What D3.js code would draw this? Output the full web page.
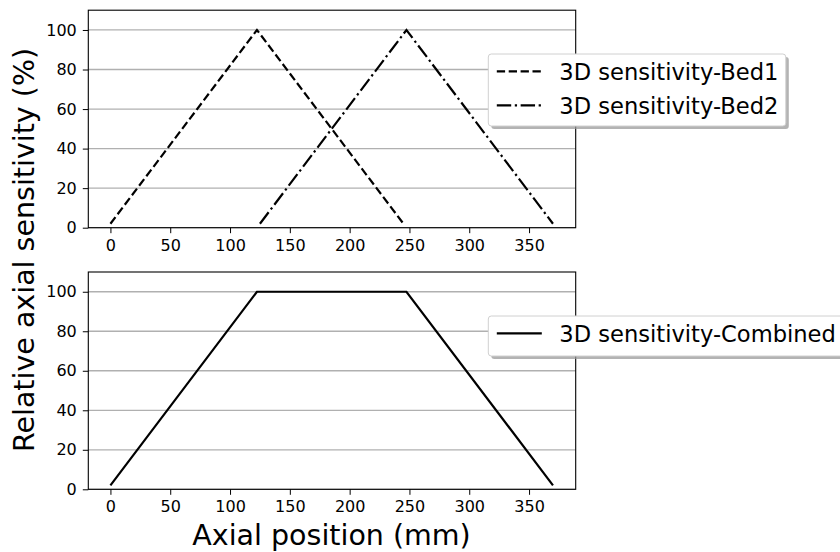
<!DOCTYPE html>
<html>
<head>
<meta charset="utf-8">
<script src="https://cdn.jsdelivr.net/npm/d3@7"></script>
<style>
  html, body { margin: 0; padding: 0; background: #fff; }
  svg { display: block; font-family: "DejaVu Sans", sans-serif; }
</style>
</head>
<body>
<svg id="chart" width="840" height="552"></svg>
<script>
// ---- data ----
const bed1X = [0, 122.5, 245];
const bed1Y = [2, 100, 2];
const bed2X = [125, 247.5, 370];
const bed2Y = [2, 100, 2];
const combinedX = [0, 122.5, 247.5, 370];
const combinedY = [2, 100, 100, 2];
const xTicks = [0, 50, 100, 150, 200, 250, 300, 350];
const yTicks = [0, 20, 40, 60, 80, 100];
const legendTop = ["3D sensitivity-Bed1", "3D sensitivity-Bed2"];
const legendBottom = ["3D sensitivity-Combined"];
const xLabel = "Axial position (mm)";
const yLabel = "Relative axial sensitivity (%)";

const svg = d3.select("#chart");

const x = d3.scaleLinear().domain([-18.5, 389]).range([88.3, 575.7]);
const yTop = d3.scaleLinear().domain([0, 110]).range([227.7, 10.2]);
const yBot = d3.scaleLinear().domain([0, 110]).range([489.3, 272.0]);

const dashStyles = {
  dashed: "8.3,3.6",
  dashdot: "14.4,3.6,2.25,3.6",
  solid: null
};

function drawPanel(y, series) {
  const g = svg.append("g");
  g.selectAll("line.grid").data(yTicks).enter().append("line")
    .attr("x1", x.range()[0]).attr("x2", x.range()[1])
    .attr("y1", d => y(d)).attr("y2", d => y(d))
    .attr("stroke", "#b0b0b0").attr("stroke-width", 1.3);
  const line = d3.line().x(d => x(d[0])).y(d => y(d[1]));
  series.forEach(s => {
    const pts = s.xs.map((v, i) => [v, s.ys[i]]);
    g.append("path").datum(pts).attr("d", line)
      .attr("fill", "none").attr("stroke", "#000").attr("stroke-width", 2.2)
      .attr("stroke-dasharray", dashStyles[s.style]);
  });
  const xAxis = d3.axisBottom(x).tickValues(xTicks).tickSize(5.5).tickPadding(6);
  const yAxis = d3.axisLeft(y).tickValues(yTicks).tickSize(5.5).tickPadding(6);
  const gx = g.append("g").attr("transform", `translate(0,${y.range()[0]})`).call(xAxis);
  const gy = g.append("g").attr("transform", `translate(${x.range()[0]},0)`).call(yAxis);
  [gx, gy].forEach(a => {
    a.select(".domain").remove();
    a.selectAll(".tick line").attr("stroke", "#000").attr("stroke-width", 1);
    a.selectAll(".tick text").attr("fill", "#000")
      .style("font-family", "'DejaVu Sans', sans-serif").style("font-size", "16px");
  });
  g.append("rect")
    .attr("x", x.range()[0]).attr("y", y.range()[1])
    .attr("width", x.range()[1] - x.range()[0])
    .attr("height", y.range()[0] - y.range()[1])
    .attr("fill", "none").attr("stroke", "#000").attr("stroke-width", 1.1);
}

drawPanel(yTop, [
  { xs: bed1X, ys: bed1Y, style: "dashed" },
  { xs: bed2X, ys: bed2Y, style: "dashdot" }
]);
drawPanel(yBot, [
  { xs: combinedX, ys: combinedY, style: "solid" }
]);

function drawLegend(x0, y0, w, h, labels, styles) {
  const g = svg.append("g");
  g.append("rect").attr("x", x0 + 3).attr("y", y0 + 3).attr("width", w).attr("height", h)
    .attr("rx", 3).attr("fill", "#9a9a9a").attr("opacity", 0.75);
  g.append("rect").attr("x", x0).attr("y", y0).attr("width", w).attr("height", h)
    .attr("rx", 3).attr("fill", "#fff").attr("stroke", "#d0d0d0").attr("stroke-width", 1);
  labels.forEach((lab, i) => {
    const cy = y0 + 17.3 + 34 * i;
    g.append("line").attr("x1", x0 + 8.5).attr("x2", x0 + 53.5)
      .attr("y1", cy).attr("y2", cy)
      .attr("stroke", "#000").attr("stroke-width", 2.2)
      .attr("stroke-dasharray", dashStyles[styles[i]]);
    g.append("text").attr("x", x0 + 71).attr("y", cy + 8.7)
      .attr("fill", "#000").style("font-size", "22.6px").text(lab);
  });
}

drawLegend(488.3, 54, 297.5, 72, legendTop, ["dashed", "dashdot"]);
drawLegend(488.3, 316, 400, 40, legendBottom, ["solid"]);

svg.append("text").attr("x", 331.5).attr("y", 545)
  .attr("text-anchor", "middle").attr("fill", "#000")
  .style("font-size", "28.5px").text(xLabel);
svg.append("text")
  .attr("transform", "translate(34,250) rotate(-90)")
  .attr("text-anchor", "middle").attr("fill", "#000")
  .style("font-size", "28.5px").text(yLabel);
</script>
</body>
</html>
